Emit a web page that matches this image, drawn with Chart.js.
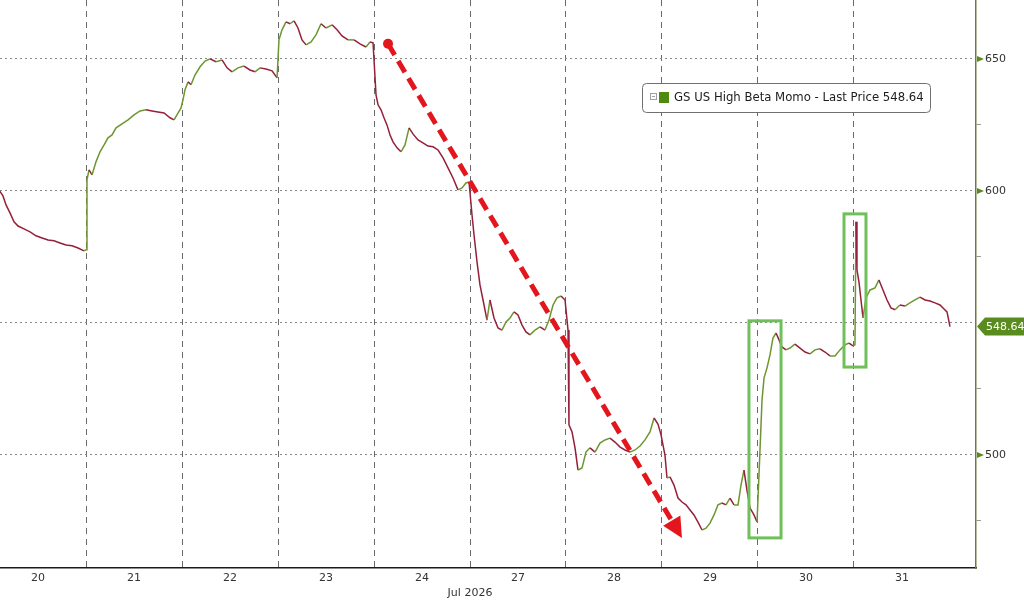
<!DOCTYPE html>
<html>
<head>
<meta charset="utf-8">
<title>GS US High Beta Momo</title>
<script src="https://cdn.jsdelivr.net/npm/chart.js@4.4.1/dist/chart.umd.min.js"></script>
<style>
  html, body { margin: 0; padding: 0; background: #fff; }
  #wrap { width: 1024px; height: 600px; }
</style>
</head>
<body>
<div id="wrap"><canvas id="momo" width="1024" height="600"></canvas></div>
<script>
/* trading sessions on the x axis: 0 = Jul 20 open, 1 = Jul 21 open, ... */
const dayLabels = ["20", "21", "22", "23", "24", "27", "28", "29", "30", "31"];
const dayBreaks = [1, 2, 3, 4, 5, 6, 7, 8, 9];
const monthLabel = "Jul 2026";
const monthAt = 5;

const times = [
  0.10, 0.135, 0.167, 0.208, 0.25, 0.292, 0.354, 0.417, 0.479, 0.542, 0.604, 0.667, 0.729, 0.792, 0.854, 0.917, 0.979,
  1.0, 1.01, 1.031, 1.063, 1.104, 1.146, 1.188, 1.229, 1.271, 1.313, 1.375, 1.438, 1.5, 1.563, 1.625, 1.688, 1.75, 1.813, 1.875, 1.917, 1.958, 1.99,
  2.01, 2.031, 2.063, 2.094, 2.135, 2.188, 2.24, 2.292, 2.354, 2.417, 2.469, 2.521, 2.583, 2.646, 2.708, 2.76, 2.813, 2.875, 2.938, 2.99,
  3.01, 3.042, 3.083, 3.125, 3.167, 3.208, 3.25, 3.292, 3.344, 3.396, 3.448, 3.5, 3.563, 3.615, 3.667, 3.729, 3.792, 3.854, 3.917, 3.958, 3.99,
  4.021, 4.042, 4.073, 4.104, 4.135, 4.167, 4.198, 4.24, 4.281, 4.323, 4.365, 4.406, 4.458, 4.51, 4.563, 4.615, 4.667, 4.719, 4.771, 4.823, 4.875, 4.917, 4.958, 4.99,
  5.021, 5.042, 5.073, 5.104, 5.146, 5.177, 5.208, 5.25, 5.292, 5.333, 5.375, 5.417, 5.458, 5.5, 5.542, 5.583, 5.625, 5.677, 5.729, 5.781, 5.823, 5.865, 5.906, 5.948, 5.99,
  6.021, 6.031, 6.063, 6.094, 6.125, 6.167, 6.208, 6.25, 6.302, 6.354, 6.406, 6.458, 6.51, 6.563, 6.615, 6.667, 6.719, 6.771, 6.823, 6.875, 6.917, 6.958, 6.99,
  7.031, 7.052, 7.083, 7.125, 7.167, 7.208, 7.25, 7.292, 7.333, 7.375, 7.417, 7.458, 7.5, 7.542, 7.583, 7.625, 7.667, 7.708, 7.75, 7.792, 7.823, 7.854, 7.885, 7.917, 7.958, 7.99,
  8.021, 8.042, 8.063, 8.094, 8.125, 8.156, 8.188, 8.219, 8.25, 8.292, 8.333, 8.385, 8.438, 8.49, 8.542, 8.594, 8.646, 8.698, 8.75, 8.802, 8.854, 8.906, 8.948, 8.99,
  9.01, 9.021, 9.031, 9.052, 9.073, 9.094, 9.125, 9.167, 9.219, 9.26, 9.302, 9.344, 9.385, 9.427, 9.479, 9.531, 9.583, 9.635, 9.688, 9.74, 9.792, 9.844, 9.896, 9.938, 9.969, 10.0
];

const prices = [
  600.0, 598.1, 594.7, 591.7, 588.3, 586.7, 585.6, 584.5, 583.0, 582.2, 581.4, 581.1, 580.3, 579.5, 579.2, 578.4, 577.3,
  577.7, 604.2, 608.0, 606.1, 611.0, 614.8, 617.4, 620.1, 621.2, 623.9, 625.4, 626.9, 628.8, 630.3, 630.7, 630.3, 629.9, 629.5, 627.7, 626.9, 629.5, 631.4,
  634.5, 638.3, 641.3, 640.2, 643.9, 647.0, 649.2, 650.0, 648.9, 649.6, 646.6, 645.1, 646.6, 647.3, 645.8, 645.1, 646.6, 646.2, 645.5, 642.8,
  657.2, 661.0, 664.0, 663.3, 664.4, 661.7, 657.2, 655.3, 656.4, 659.1, 663.3, 661.7, 662.9, 661.0, 658.7, 657.2, 657.2, 655.7, 654.5, 656.4, 656.1,
  636.4, 632.6, 630.7, 627.7, 625.0, 621.2, 618.6, 616.3, 614.8, 617.4, 623.9, 621.6, 619.3, 618.2, 617.0, 616.7, 615.5, 612.5, 608.7, 604.9, 600.4, 601.1, 603.0, 603.4,
  590.9, 583.3, 573.1, 564.4, 556.8, 551.1, 558.7, 551.9, 548.1, 547.3, 550.4, 551.9, 554.2, 553.0, 549.2, 546.6, 545.5, 547.3, 548.5, 547.3, 551.1, 556.8, 559.5, 560.2, 558.7,
  547.3, 511.4, 508.7, 502.7, 494.3, 495.1, 501.1, 502.7, 501.1, 504.5, 505.7, 506.4, 504.9, 503.0, 501.9, 501.1, 501.9, 503.4, 505.7, 508.7, 514.0, 511.7, 507.6,
  500.0, 491.3, 491.7, 488.6, 483.7, 482.2, 481.1, 479.2, 477.3, 474.6, 471.6, 472.3, 474.2, 477.3, 481.1, 481.8, 481.1, 483.7, 481.1, 481.1, 488.6, 494.3, 486.7, 479.9, 477.3, 474.6,
  501.9, 520.8, 529.2, 533.0, 537.9, 544.3, 546.2, 543.6, 540.9, 539.8, 540.5, 542.0, 540.5, 539.0, 538.3, 539.8, 540.2, 539.0, 537.5, 537.5, 539.8, 541.7, 542.4, 541.3,
  541.7, 588.3, 570.1, 565.5, 558.7, 551.9, 559.5, 562.5, 563.3, 566.3, 562.5, 558.7, 555.7, 555.0, 556.8, 556.4, 557.6, 558.7, 559.8, 558.7, 558.3, 557.6, 556.8, 555.3, 554.2, 548.64
];

const lastPrice = 548.64;
const seriesName = "GS US High Beta Momo - Last Price";
const yTicks = [475, 500, 525, 550, 575, 600, 625, 650];
const yLabelled = [500, 600, 650];

/* annotations, in data units */
const trendArrow = { from: [4.146, 655.7], to: [7.208, 468.6] };
const highlightBoxes = [
  [7.906, 8.24, 468.6, 550.8],
  [8.896, 9.125, 533.3, 591.3]
];

const X_MIN = 0.104, X_MAX = 10.271;
const Y_MIN = 457.2, Y_MAX = 672.3;
const FONT = "DejaVu Sans";
const UP = "#6e9630";
const DOWN = "#95203a";
const TAG = "#5a8b1f";

const marksPlugin = {
  id: "marks",
  afterDatasetsDraw(chart) {
    const { ctx } = chart;
    const xs = chart.scales.x, ys = chart.scales.y;

    // green highlight boxes
    ctx.save();
    ctx.strokeStyle = "#6fc05a";
    ctx.lineWidth = 3;
    highlightBoxes.forEach(([x0, x1, v0, v1]) => {
      const l = xs.getPixelForValue(x0), r = xs.getPixelForValue(x1);
      const t = ys.getPixelForValue(v1), b = ys.getPixelForValue(v0);
      ctx.strokeRect(l, t, r - l, b - t);
    });
    ctx.restore();

    // red dashed trend arrow
    const x1 = xs.getPixelForValue(trendArrow.from[0]);
    const y1 = ys.getPixelForValue(trendArrow.from[1]);
    const x2 = xs.getPixelForValue(trendArrow.to[0]);
    const y2 = ys.getPixelForValue(trendArrow.to[1]);
    const ang = Math.atan2(y2 - y1, x2 - x1);
    const headLen = 20, headW = 10;
    const bx = x2 - headLen * Math.cos(ang), by = y2 - headLen * Math.sin(ang);

    ctx.save();
    ctx.strokeStyle = "#e3161d";
    ctx.fillStyle = "#e3161d";
    ctx.lineWidth = 5;
    ctx.setLineDash([13, 7]);
    ctx.beginPath();
    ctx.moveTo(x1, y1);
    ctx.lineTo(bx, by);
    ctx.stroke();
    ctx.setLineDash([]);
    ctx.beginPath();
    ctx.arc(x1, y1, 5, 0, Math.PI * 2);
    ctx.fill();
    ctx.beginPath();
    ctx.moveTo(x2, y2);
    ctx.lineTo(bx - headW * Math.sin(ang), by + headW * Math.cos(ang));
    ctx.lineTo(bx + headW * Math.sin(ang), by - headW * Math.cos(ang));
    ctx.closePath();
    ctx.fill();
    ctx.restore();
  },
  afterDraw(chart) {
    const { ctx, chartArea } = chart;
    const ys = chart.scales.y;

    // little arrows on the labelled y ticks
    ctx.save();
    ctx.fillStyle = TAG;
    yLabelled.forEach(v => {
      const y = ys.getPixelForValue(v);
      ctx.beginPath();
      ctx.moveTo(chartArea.right + 1, y - 3);
      ctx.lineTo(chartArea.right + 8, y);
      ctx.lineTo(chartArea.right + 1, y + 3);
      ctx.closePath();
      ctx.fill();
    });

    // last price tag
    const ty = ys.getPixelForValue(lastPrice);
    const tx = chartArea.right + 1;
    ctx.beginPath();
    ctx.moveTo(tx, ty);
    ctx.lineTo(tx + 8, ty - 9);
    ctx.lineTo(chart.width, ty - 9);
    ctx.lineTo(chart.width, ty + 9);
    ctx.lineTo(tx + 8, ty + 9);
    ctx.closePath();
    ctx.fill();
    ctx.fillStyle = "#fff";
    ctx.font = "11px '" + FONT + "'";
    ctx.textBaseline = "middle";
    ctx.fillText(lastPrice.toFixed(2), tx + 9, ty + 1);

    // legend box
    const lx = chartArea.right - 334, ly = 83, lw = 288, lh = 29;
    ctx.fillStyle = "#fff";
    ctx.strokeStyle = "#707070";
    ctx.lineWidth = 1;
    ctx.beginPath();
    ctx.roundRect(lx + 0.5, ly + 0.5, lw, lh, 4);
    ctx.fill();
    ctx.stroke();
    ctx.strokeStyle = "#a0a0a0";
    ctx.strokeRect(lx + 8.5, ly + 10.5, 6, 6);
    ctx.beginPath();
    ctx.moveTo(lx + 10, ly + 13.5);
    ctx.lineTo(lx + 13, ly + 13.5);
    ctx.stroke();
    ctx.fillStyle = "#4f8a10";
    ctx.fillRect(lx + 17, ly + 9, 10, 11);
    ctx.fillStyle = "#1c1c1c";
    ctx.font = "11.7px '" + FONT + "'";
    ctx.textBaseline = "middle";
    ctx.fillText(seriesName + " " + lastPrice.toFixed(2), lx + 32, ly + 15);
    ctx.restore();
  }
};

const points = times.map((t, i) => ({ x: t, y: prices[i] }));
const isMinor = v => v % 25 === 0 && v % 50 !== 0;
// drop the label-overflow padding Chart.js adds round the plot
const noPad = s => { s.paddingTop = 0; s.paddingBottom = 0; s.paddingLeft = 0; s.paddingRight = 0; };

new Chart(document.getElementById("momo"), {
  type: "line",
  data: {
    datasets: [{
      label: seriesName,
      data: points,
      borderWidth: 1.5,
      pointRadius: 0,
      tension: 0,
      borderColor: UP,
      segment: {
        borderColor: c => (c.p1.parsed.y >= c.p0.parsed.y ? UP : DOWN)
      }
    }]
  },
  options: {
    responsive: false,
    animation: false,
    events: [],
    layout: { padding: 0, autoPadding: false },
    plugins: { legend: { display: false }, tooltip: { enabled: false } },
    scales: {
      x: {
        type: "linear",
        position: "bottom",
        weight: 0,
        min: X_MIN,
        max: X_MAX,
        afterBuildTicks: s => { s.ticks = dayBreaks.map(v => ({ value: v })); },
        afterFit: s => { s.height = 0; noPad(s); },
        ticks: { display: false },
        grid: { color: "#6a6a6a", lineWidth: 1, drawTicks: false },
        border: { display: true, color: "#1a1a1a", width: 1.5, dash: [6, 5] }
      },
      xDay: {
        type: "linear",
        position: "bottom",
        weight: 1,
        min: X_MIN,
        max: X_MAX,
        afterBuildTicks: s => { s.ticks = dayLabels.map((d, i) => ({ value: i + 0.5 })); },
        afterFit: s => { s.height = 19; noPad(s); },
        ticks: {
          autoSkip: false,
          maxRotation: 0,
          padding: 4,
          color: "#333",
          font: { family: FONT, size: 11 },
          callback: (v, i) => dayLabels[i]
        },
        grid: { display: false, drawTicks: false },
        border: { display: false }
      },
      xMonth: {
        type: "linear",
        position: "bottom",
        weight: 2,
        min: X_MIN,
        max: X_MAX,
        afterBuildTicks: s => { s.ticks = [{ value: monthAt }]; },
        afterFit: s => { s.height = 13; noPad(s); },
        ticks: {
          autoSkip: false,
          maxRotation: 0,
          padding: 0,
          color: "#333",
          font: { family: FONT, size: 11 },
          callback: () => monthLabel
        },
        grid: { display: false, drawTicks: false },
        border: { display: false }
      },
      y: {
        type: "linear",
        position: "right",
        min: Y_MIN,
        max: Y_MAX,
        afterBuildTicks: s => { s.ticks = yTicks.map(v => ({ value: v })); },
        afterFit: s => { s.width = 48; noPad(s); },
        ticks: {
          padding: 4,
          color: "#333",
          font: { family: FONT, size: 11 },
          callback: v => (yLabelled.includes(v) ? String(v) : "")
        },
        grid: {
          color: c => (c.tick && c.tick.value % 50 === 0 ? "#8a8a8a" : "rgba(0,0,0,0)"),
          tickColor: c => (c.tick && isMinor(c.tick.value) ? "#9a9a9a" : "rgba(0,0,0,0)"),
          tickLength: 5,
          lineWidth: 1
        },
        border: { display: true, color: "#6e7c3a", width: 1.5, dash: [2, 3] }
      }
    }
  },
  plugins: [marksPlugin]
});
</script>
</body>
</html>
